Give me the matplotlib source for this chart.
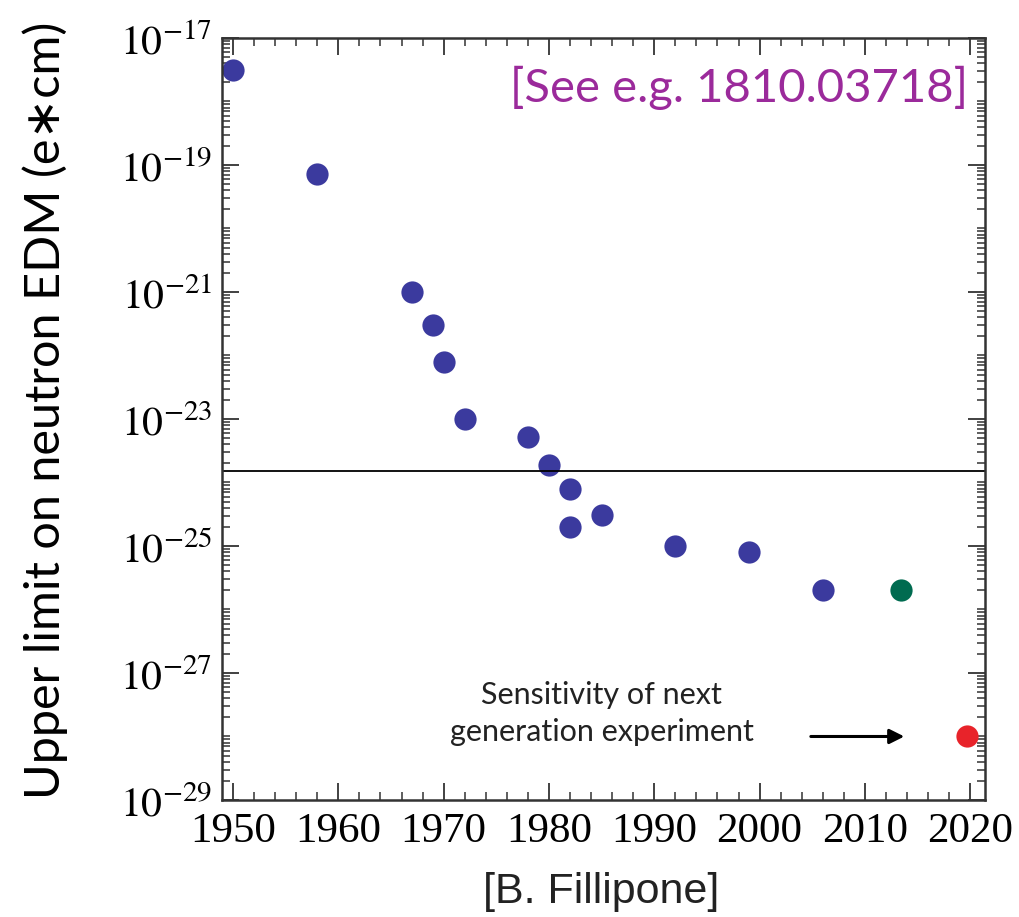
#!/usr/bin/env python3

"""
Neutron EDM upper limits vs. year, with next generation sensitivity.
"""

import numpy as np
import matplotlib
matplotlib.use("Agg")
import matplotlib.pyplot as plt
from matplotlib.ticker import FixedLocator, LogLocator, MultipleLocator, NullFormatter

# measured upper limits (e*cm)
years = [1950, 1958, 1967, 1969, 1970, 1972, 1978, 1980, 1982, 1982, 1985, 1992, 1999, 2006]
limits = [3.1e-18, 7.2e-20, 1.0e-21, 3.0e-22, 8.0e-23, 1.0e-23, 5.2e-24, 1.9e-24,
          8.0e-25, 2.0e-25, 3.1e-25, 1.0e-25, 8.0e-26, 2.0e-26]

# latest result and projected sensitivity
latest_year = [2013.4]
latest_limit = [2.0e-26]
next_year = [2019.7]
next_limit = [1.0e-28]

line_level = 1.5e-24

ytick_exps = [-17, -19, -21, -23, -25, -27, -29]
xtick_years = [1950, 1960, 1970, 1980, 1990, 2000, 2010, 2020]

plt.rcParams["mathtext.fontset"] = "stix"

fig = plt.figure(figsize=(10.2, 9.17), dpi=100)
ax = fig.add_axes([0.2176, 0.1276, 0.7481, 0.831])

ax.plot(years, limits, "o", color="#3b3a9e", markersize=16, markeredgewidth=0)
ax.plot(latest_year, latest_limit, "o", color="#006b50", markersize=16, markeredgewidth=0)
ax.plot(next_year, next_limit, "o", color="#e8232a", markersize=16, markeredgewidth=0, clip_on=False)
ax.axhline(line_level, color="black", linewidth=1.3)

ax.set_yscale("log")
ax.set_xlim(1948.95, 2021.4)
ax.set_ylim(1e-29, 1e-17)

ax.yaxis.set_major_locator(FixedLocator([10.0 ** e for e in ytick_exps]))
ax.yaxis.set_minor_locator(LogLocator(base=10, subs=np.arange(1, 10), numticks=40))
ax.yaxis.set_minor_formatter(NullFormatter())
ax.set_yticklabels([r"$10^{%d}$" % e for e in ytick_exps], fontsize=30)

ax.xaxis.set_major_locator(FixedLocator(xtick_years))
ax.xaxis.set_minor_locator(MultipleLocator(2))
ax.set_xticklabels([str(y) for y in xtick_years], fontfamily="Liberation Serif", fontsize=31)

ax.tick_params(which="both", direction="in", top=True, right=True, color="#333333")
ax.tick_params(which="major", length=12, width=1.3, pad=7)
ax.tick_params(axis="x", which="major", pad=9)
ax.tick_params(which="minor", length=6, width=1.1)
for sp in ax.spines.values():
    sp.set_linewidth(1.8)
    sp.set_color("#333333")

ax.set_ylabel("Upper limit on neutron EDM (e\u2217cm)", fontsize=35,
              family=["Lato", "DejaVu Sans"], va="center")
ax.yaxis.set_label_coords(-0.232, 0.512)

ax.text(0.978, 0.935, "[See e.g. 1810.03718]", transform=ax.transAxes, ha="right", va="center",
        fontsize=34, color="#9b2a9b", family="Lato")

ax.text(1985.0, 2.3e-28, "Sensitivity of next\ngeneration experiment", ha="center", va="center",
        fontsize=22, family="Lato", linespacing=1.35, color="#222222")
ax.annotate("", xy=(2014.0, 1.0e-28), xytext=(2004.6, 1.0e-28),
            arrowprops=dict(arrowstyle="-|>", color="black", lw=2.2, mutation_scale=22))

fig.text(0.589, 0.027, "[B. Fillipone]", ha="center", va="center", fontsize=31,
         family="Liberation Sans", color="#222222")

fig.savefig("out.png", dpi=100)
